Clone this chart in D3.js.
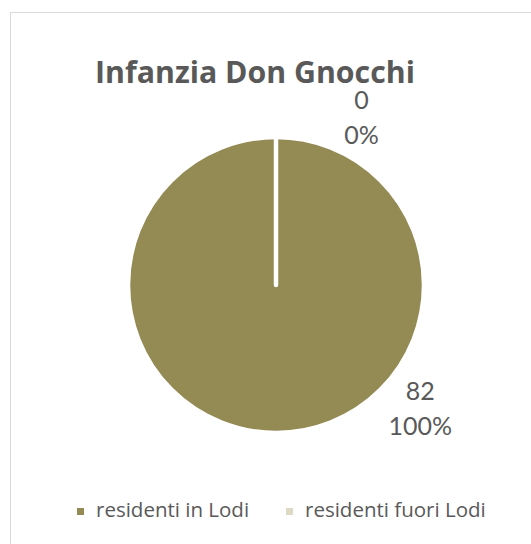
<!DOCTYPE html>
<html>
<head>
<meta charset="utf-8">
<script src="https://cdn.jsdelivr.net/npm/d3@7"></script>
<style>
  body { margin: 0; background: #fff; }
  text { font-family: "Open Sans", Lato, sans-serif; fill: #595959; }
</style>
</head>
<body>
<div id="chart"></div>
<script>
const categories = ["residenti in Lodi", "residenti fuori Lodi"]
const values = [82, 0]
const colors = ["#948A54", "#DDD9C3"]
const title = "Infanzia Don Gnocchi"

const width = 531
const height = 544
const cx = 276, cy = 285
const radius = 148

// where Excel dropped the data labels (angle in degrees from 12 o'clock, distance from center)
const labelSpots = [{ angle: 132, dist: 194 }, { angle: 28, dist: 182 }]

const svg = d3.select("#chart")
    .append("svg")
    .attr("width", width)
    .attr("height", height)

// chart area border
svg.append("rect")
    .attr("x", 10.5)
    .attr("y", 12.5)
    .attr("width", 540)
    .attr("height", 560)
    .attr("fill", "#fff")
    .attr("stroke", "#d9d9d9")
    .attr("stroke-width", 1)

const titleText = svg.append("text")
    .attr("x", 255)
    .attr("y", 83)
    .attr("text-anchor", "middle")
    .attr("font-size", 28)
    .attr("font-weight", "bold")
    .text(title)
// fit the title to the width it has in the original (~320px)
const tw = titleText.node().getComputedTextLength()
titleText.attr("font-size", 28 * 320 / tw)

const data = categories.map((c, i) => ({ name: c, value: values[i], color: colors[i] }))
const total = d3.sum(values)

const pie = d3.pie().sort(null).value(d => d.value)
const arc = d3.arc().innerRadius(0).outerRadius(radius)

const g = svg.append("g")
    .attr("transform", "translate(" + cx + "," + cy + ")")

g.selectAll(".slice")
    .data(pie(data))
    .enter()
    .append("path")
    .attr("class", "slice")
    .attr("d", arc)
    .attr("fill", d => d.data.color)
    .attr("stroke", "#fff")
    .attr("stroke-width", 4.5)
    .attr("stroke-linejoin", "round")

// data labels: value + percentage
const labels = g.selectAll(".lbl")
    .data(data)
    .enter()
    .append("text")
    .attr("class", "lbl")
    .attr("text-anchor", "middle")
    .attr("font-size", 25)
    .style("font-family", "Lato, sans-serif")
    .attr("transform", (d, i) => {
        const a = labelSpots[i].angle * Math.PI / 180
        const r = labelSpots[i].dist
        return "translate(" + (Math.sin(a) * r) + "," + (-Math.cos(a) * r) + ")"
    })

labels.append("tspan")
    .attr("x", 0)
    .attr("dy", "-0.6em")
    .text(d => d.value)

labels.append("tspan")
    .attr("x", 0)
    .attr("dy", "1.4em")
    .text(d => Math.round(d.value / total * 100) + "%")

// legend
const legendX = [77, 286]
const legend = svg.append("g")
    .attr("transform", "translate(0,508)")

const items = legend.selectAll(".legend-item")
    .data(data)
    .enter().append("g")
    .attr("class", "legend-item")
    .attr("transform", (d, i) => "translate(" + legendX[i] + ",0)")

items.append("rect")
    .attr("width", 7)
    .attr("height", 7)
    .attr("fill", d => d.color)

items.append("text")
    .attr("x", 19)
    .attr("y", 9)
    .attr("font-size", 20.5)
    .text(d => d.name)
</script>
</body>
</html>
